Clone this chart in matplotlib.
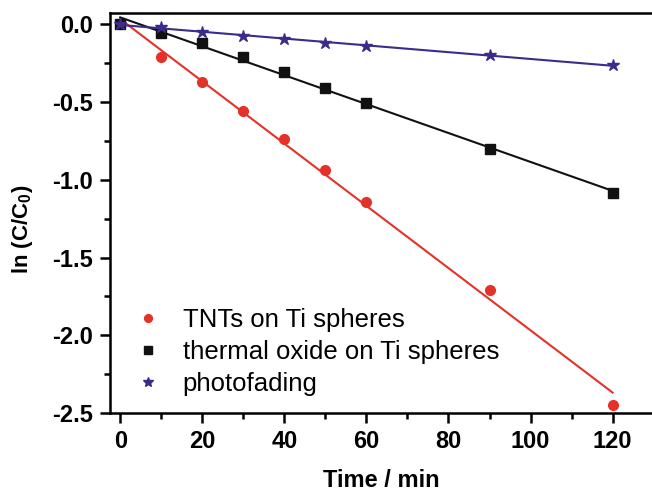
import numpy as np
import matplotlib
matplotlib.use("Agg")
import matplotlib.pyplot as plt
from matplotlib.ticker import MultipleLocator

plt.rcParams['font.family'] = ['Liberation Sans', 'DejaVu Sans']
plt.rcParams['mathtext.fontset'] = 'custom'
plt.rcParams['mathtext.rm'] = 'Liberation Sans:bold'
plt.rcParams['mathtext.bf'] = 'Liberation Sans:bold'

time = [0, 10, 20, 30, 40, 50, 60, 90, 120]
tnts = [0, -0.209, -0.370, -0.557, -0.735, -0.934, -1.145, -1.707, -2.449]
thermal = [0, -0.058, -0.122, -0.209, -0.309, -0.408, -0.509, -0.803, -1.085]
photo = [0, -0.015, -0.052, -0.073, -0.097, -0.118, -0.140, -0.198, -0.262]

labels = ['TNTs on Ti spheres', 'thermal oxide on Ti spheres', 'photofading']
colors = ['#e53228', '#111111', '#3d2a8a']
markers = ['o', 's', '*']
msizes = [7, 7, 9]

fig = plt.figure(figsize=(6.52, 4.92), dpi=100)
ax = fig.add_axes([0.1687, 0.1606, 0.8313, 0.813])

x = np.array(time)
for y, lab, c, m, ms in zip([tnts, thermal, photo], labels, colors, markers, msizes):
    ax.plot(time, y, linestyle='none', marker=m, color=c, markersize=ms, label=lab)
    k, b = np.polyfit(x, np.array(y), 1)
    ax.plot([0, 120], [b, k * 120 + b], color=c, linewidth=1.5)

ax.set_xlim(-2.5, 129.6)
ax.set_ylim(-2.5, 0.073)
ax.xaxis.set_major_locator(MultipleLocator(20))
ax.xaxis.set_minor_locator(MultipleLocator(10))
ax.yaxis.set_major_locator(MultipleLocator(0.5))
ax.yaxis.set_minor_locator(MultipleLocator(0.25))
ax.yaxis.set_major_formatter(plt.FuncFormatter(lambda v, p: '%.1f' % v))

for s in ['top', 'bottom', 'left', 'right']:
    ax.spines[s].set_linewidth(1.8)
ax.spines['right'].set_visible(False)

ax.tick_params(which='major', direction='out', length=7, width=1.8, labelsize=17, pad=5)
ax.tick_params(which='minor', direction='out', length=4, width=1.8)
for t in ax.get_xticklabels() + ax.get_yticklabels():
    t.set_fontweight('bold')

ax.set_xlabel('Time / min', fontsize=17, fontweight='bold', labelpad=12)
ax.set_ylabel(r'ln (C/C$_\mathbf{0}$)', fontsize=16, fontweight='bold')
ax.yaxis.set_label_coords(-0.138, 0.46)

ax.legend(loc='lower left', bbox_to_anchor=(-0.02, -0.016), frameon=False,
          fontsize=18.5, handletextpad=0.35, labelspacing=0.32, markerscale=0.8)

fig.savefig('out.png', dpi=100)
